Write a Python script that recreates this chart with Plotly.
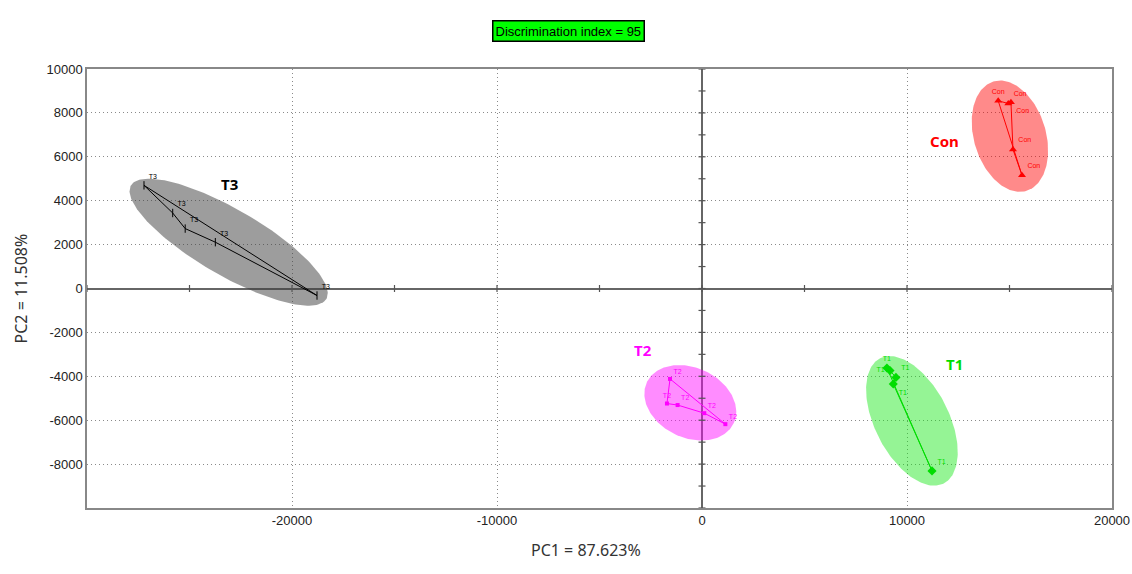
import numpy as np
import plotly.graph_objects as go

# ---- sample scores (PC1, PC2) per group ----
con_pc1 = [14450, 14940, 15070, 15170, 15610]
con_pc2 = [8550, 8430, 8490, 6330, 5160]
t1_pc1 = [9020, 9170, 9460, 9330, 11220]
t1_pc2 = [-3620, -3740, -4050, -4350, -8310]
t2_pc1 = [-1560, -1710, -1190, 110, 1140]
t2_pc2 = [-4120, -5240, -5310, -5680, -6180]
t3_pc1 = [-27220, -25820, -25210, -23740, -18780]
t3_pc2 = [4700, 3440, 2730, 2110, -320]

# ---- group ellipses: centre and two semi-axis vectors (PC1, PC2 units) ----
con_ell_center = [15020, 6940]
con_ell_axes = [[810, -2489], [1678, 479]]
t1_ell_center = [10240, -6030]
t1_ell_axes = [[1551, -2849], [1610, 767]]
t2_ell_center = [-570, -5205]
t2_ell_axes = [[2122, -927], [-722, -1447]]
t3_ell_center = [-23090, 2110]
t3_ell_axes = [[4766, -2585], [-805, -1301]]

# ---- axis ticks and labels ----
x_tickvals = [-20000, -10000, 0, 10000, 20000]
y_tickvals = [10000, 8000, 6000, 4000, 2000, 0, -2000, -4000, -6000, -8000]
x_title = "PC1 = 87.623%"
y_title = "PC2 = 11.508%"
badge_text = "Discrimination index = 95"

groups = [
    dict(name="Con", x=con_pc1, y=con_pc2, c=con_ell_center, ax=con_ell_axes,
         line="#ff0000", fill="rgba(255,0,0,0.46)", symbol="triangle-up", size=7,
         tpos=["top center", "top right", "bottom right", "top right", "top right"],
         lab=(11805, 6712)),
    dict(name="T1", x=t1_pc1, y=t1_pc2, c=t1_ell_center, ax=t1_ell_axes,
         line="#00dd00", fill="rgba(20,230,20,0.45)", symbol="diamond", size=7,
         tpos=["top center", "middle left", "top right", "bottom right", "top right"],
         lab=(12293, -3425)),
    dict(name="T2", x=t2_pc1, y=t2_pc2, c=t2_ell_center, ax=t2_ell_axes,
         line="#ff00ff", fill="rgba(255,0,255,0.45)", symbol="square", size=4,
         tpos=["top right", "top center", "top right", "top right", "top right"],
         lab=(-2878, -2785)),
    dict(name="T3", x=t3_pc1, y=t3_pc2, c=t3_ell_center, ax=t3_ell_axes,
         line="#000000", fill="rgba(60,60,60,0.5)", symbol="line-ns", size=6,
         tpos=["top right"] * 5,
         lab=(-23073, 4749)),
]

fig = go.Figure()

# ellipses
t = np.linspace(0, 2 * np.pi, 181)
for g in groups:
    (ax1, ay1), (ax2, ay2) = g["ax"]
    ex = g["c"][0] + ax1 * np.cos(t) + ax2 * np.sin(t)
    ey = g["c"][1] + ay1 * np.cos(t) + ay2 * np.sin(t)
    fig.add_trace(go.Scatter(x=ex, y=ey, mode="lines", fill="toself",
                             fillcolor=g["fill"], line=dict(width=0),
                             hoverinfo="skip", showlegend=False))

# tick marks drawn on the central axes
vt = np.arange(-10000, 10001, 1000)
fig.add_trace(go.Scatter(x=np.zeros_like(vt), y=vt, mode="markers",
                         marker=dict(symbol="line-ew", size=5,
                                     line=dict(color="#555555", width=1.2)),
                         hoverinfo="skip", showlegend=False))
ht = np.arange(-30000, 20001, 5000)
fig.add_trace(go.Scatter(x=ht, y=np.zeros_like(ht), mode="markers",
                         marker=dict(symbol="line-ns", size=5,
                                     line=dict(color="#555555", width=1.2)),
                         hoverinfo="skip", showlegend=False))

# sample polygons with markers and labels
for g in groups:
    px = list(g["x"]) + [g["x"][0]]
    py = list(g["y"]) + [g["y"][0]]
    fig.add_trace(go.Scatter(x=px, y=py, mode="lines",
                             line=dict(color=g["line"], width=1),
                             hoverinfo="skip", showlegend=False))
    mk = dict(symbol=g["symbol"], size=g["size"], color=g["line"])
    if g["symbol"] == "line-ns":
        mk["line"] = dict(color=g["line"], width=1)
    fig.add_trace(go.Scatter(x=g["x"], y=g["y"], mode="markers+text",
                             text=[g["name"]] * len(g["x"]),
                             textposition=g["tpos"],
                             textfont=dict(size=7, color=g["line"],
                                           family="Liberation Sans"),
                             marker=mk, name=g["name"], showlegend=False))
    fig.add_annotation(x=g["lab"][0], y=g["lab"][1], text="<b>%s</b>" % g["name"],
                       showarrow=False, xanchor="center", yanchor="middle",
                       font=dict(size=15, color=g["line"], family="Noto Sans"))

# badge and axis titles
fig.add_annotation(xref="paper", yref="paper", x=0.470, y=1.1116,
                   text=badge_text, showarrow=False,
                   bgcolor="#00ff00", bordercolor="#000000", borderwidth=1.5,
                   borderpad=2, font=dict(size=13, color="#000000",
                                          family="Liberation Sans"))
fig.add_annotation(xref="paper", yref="paper", x=0.487, y=-0.1253,
                   text=x_title, showarrow=False,
                   font=dict(size=16, color="#333333", family="Noto Sans"))
fig.add_annotation(xref="paper", yref="paper", x=-0.0654, y=0.5, xshift=-12,
                   text=y_title, showarrow=False, textangle=-90,
                   font=dict(size=16, color="#333333", family="Noto Sans"))

axis_common = dict(showline=True, mirror=True, linecolor="#888888", linewidth=1.5,
                   showgrid=True, gridcolor="#8a8a8a", griddash="1px,3px", gridwidth=1,
                   zeroline=True, zerolinecolor="#666666", zerolinewidth=2,
                   automargin=False,
                   ticks="", tickfont=dict(size=13, color="#222222",
                                           family="Liberation Sans"))
fig.update_xaxes(range=[-30000, 20000], tickvals=x_tickvals,
                 ticktext=[str(v) for v in x_tickvals], **axis_common)
fig.update_yaxes(range=[-10000, 10000], tickvals=y_tickvals,
                 ticktext=[str(v) for v in y_tickvals], **axis_common)

fig.update_layout(width=1132, height=574, plot_bgcolor="white",
                  paper_bgcolor="white",
                  margin=dict(l=87, r=20, t=69, b=66, autoexpand=False))

fig.write_html("out.html")
